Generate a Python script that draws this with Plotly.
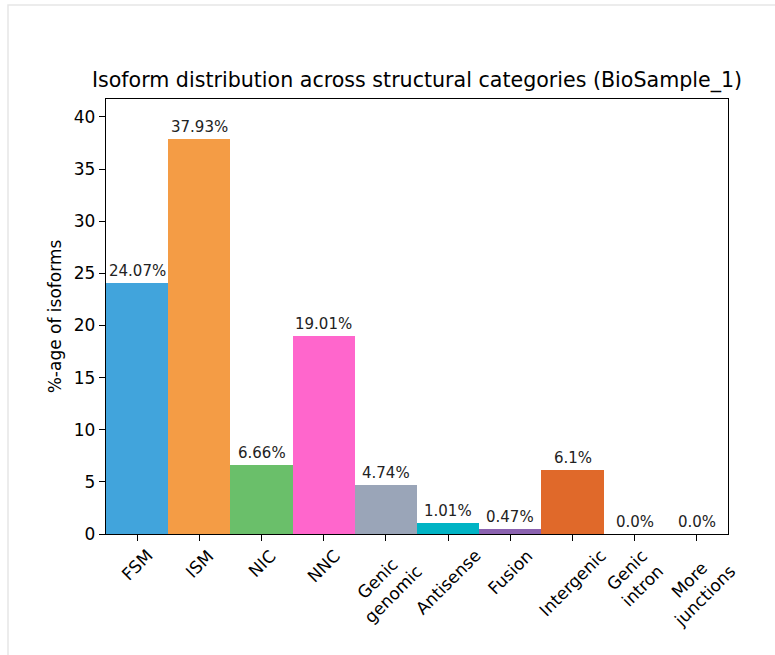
import plotly.graph_objects as go

# Structural categories and their share of isoforms (%)
categories = ["FSM", "ISM", "NIC", "NNC", "Genic<br>genomic", "Antisense",
              "Fusion", "Intergenic", "Genic<br>intron", "More<br>junctions"]
percentages = [24.07, 37.93, 6.66, 19.01, 4.74, 1.01, 0.47, 6.1, 0.0, 0.0]
bar_colors = ["#41A4DC", "#F49C45", "#6ABF6A", "#FF66CC", "#9AA5B8",
              "#00B3C4", "#8B62B0", "#E0692A", "#6A6A6A", "#6A6A6A"]
y_ticks = [0, 5, 10, 15, 20, 25, 30, 35, 40]

FONT = "DejaVu Sans, Liberation Sans, sans-serif"

fig = go.Figure()
fig.add_trace(go.Bar(
    x=list(range(len(categories))),
    y=percentages,
    marker=dict(color=bar_colors, line=dict(width=0)),
    width=1.0,
    hoverinfo="skip",
))

# value labels above each bar
for i, v in enumerate(percentages):
    fig.add_annotation(
        x=i, y=v, text=f"{v}%", showarrow=False,
        yanchor="bottom", yshift=1,
        font=dict(family=FONT, size=15, color="#222222"),
    )

# rotated category labels, centred under each tick
for i, name in enumerate(categories):
    fig.add_annotation(
        x=i, y=0, yref="y", text=name, showarrow=False,
        textangle=-45, xanchor="center", yanchor="top", yshift=-9,
        align="center",
        font=dict(family=FONT, size=17, color="black"),
    )

# light card frame around the figure
fig.add_shape(
    type="rect", xref="paper", yref="paper",
    x0=(8 - 106) / 622, x1=(790 - 106) / 622,
    y0=(534 - 670) / 435, y1=(534 - 5) / 435,
    line=dict(color="#E6E6E6", width=1.5), fillcolor="rgba(0,0,0,0)",
    layer="below",
)

fig.update_layout(
    width=775, height=655,
    margin=dict(l=106, r=47, t=99, b=121),
    paper_bgcolor="white", plot_bgcolor="white",
    bargap=0,
    showlegend=False,
    title=dict(
        text="Isoform distribution across structural categories (BioSample_1)",
        x=(106 + 311) / 775, xanchor="center",
        y=1 - 80 / 655, yanchor="middle",
        font=dict(family=FONT, size=20.6, color="black"),
    ),
    font=dict(family=FONT, color="black"),
)

fig.update_xaxes(
    range=[-0.5, len(categories) - 0.5],
    tickmode="array",
    tickvals=list(range(len(categories))),
    showticklabels=False,
    ticks="outside", ticklen=6, tickwidth=1.3, tickcolor="black",
    showline=True, linecolor="black", linewidth=1.3, mirror=True,
    showgrid=False, zeroline=False,
)

fig.update_yaxes(
    range=[0, max(percentages) * 1.1],
    tickmode="array", tickvals=y_ticks,
    ticks="outside", ticklen=6, tickwidth=1.3, tickcolor="black",
    tickfont=dict(family=FONT, size=17, color="black"),
    title=dict(text="%-age of isoforms", font=dict(family=FONT, size=17, color="black"),
               standoff=7),
    showline=True, linecolor="black", linewidth=1.3, mirror=True,
    showgrid=False, zeroline=False,
)

fig.write_html("out.html")
